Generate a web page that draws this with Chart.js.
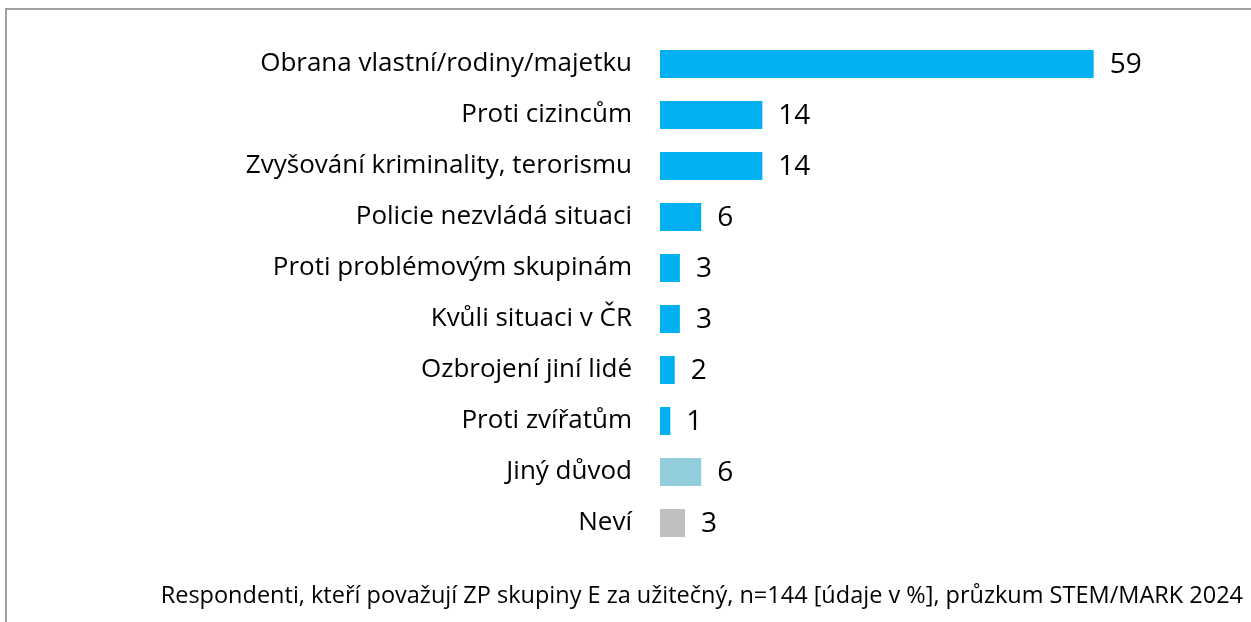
<!DOCTYPE html>
<html>
<head>
<meta charset="utf-8">
<script src="https://cdn.jsdelivr.net/npm/chart.js@4/dist/chart.umd.min.js"></script>
<style>
  html, body { margin: 0; padding: 0; background: #fff; }
  #wrap { width: 1251px; height: 622px; position: relative; }
</style>
</head>
<body>
<div id="wrap"><canvas id="c" width="1251" height="622"></canvas></div>
<script>
const categories = [
  "Obrana vlastní/rodiny/majetku",
  "Proti cizincům",
  "Zvyšování kriminality, terorismu",
  "Policie nezvládá situaci",
  "Proti problémovým skupinám",
  "Kvůli situaci v ČR",
  "Ozbrojení jiní lidé",
  "Proti zvířatům",
  "Jiný důvod",
  "Neví"
];
// bar lengths
const values = [58.9, 13.9, 13.9, 5.6, 2.7, 2.7, 2.0, 1.4, 5.6, 3.4];
// printed value labels
const valueLabels = ["59", "14", "14", "6", "3", "3", "2", "1", "6", "3"];
const barColors = ["#00B0F0", "#00B0F0", "#00B0F0", "#00B0F0", "#00B0F0", "#00B0F0", "#00B0F0", "#00B0F0", "#92CDDC", "#BFBFBF"];
const footnote = "Respondenti, kteří považují ZP skupiny E za užitečný, n=144 [údaje v %], průzkum STEM/MARK 2024";

const FONT = "'Open Sans', Lato, sans-serif";

const framePlugin = {
  id: 'frame',
  beforeDraw(chart) {
    const ctx = chart.ctx;
    ctx.save();
    ctx.fillStyle = '#fff';
    ctx.fillRect(0, 0, chart.width, chart.height);
    ctx.strokeStyle = '#A0A0A0';
    ctx.lineWidth = 2;
    ctx.beginPath();
    ctx.moveTo(6, chart.height);
    ctx.lineTo(6, 9);
    ctx.lineTo(chart.width, 9);
    ctx.stroke();
    ctx.restore();
  },
  afterDraw(chart) {
    const ctx = chart.ctx;
    ctx.save();
    ctx.font = "23.5px " + FONT;
    ctx.fillStyle = '#000';
    ctx.textAlign = 'right';
    ctx.textBaseline = 'alphabetic';
    ctx.fillText(footnote, 1243, 603);
    ctx.restore();
  }
};

const valueLabelPlugin = {
  id: 'valueLabels',
  afterDatasetsDraw(chart) {
    const ctx = chart.ctx;
    const meta = chart.getDatasetMeta(0);
    ctx.save();
    ctx.font = "28px " + FONT;
    ctx.fillStyle = '#000';
    ctx.textAlign = 'left';
    ctx.textBaseline = 'middle';
    meta.data.forEach((bar, i) => {
      ctx.fillText(valueLabels[i], bar.x + 16, bar.y + 1);
    });
    ctx.restore();
  }
};

new Chart(document.getElementById('c'), {
  type: 'bar',
  data: {
    labels: categories,
    datasets: [{
      data: values,
      backgroundColor: barColors,
      borderWidth: 0,
      barPercentage: 0.55,
      categoryPercentage: 1.0
    }]
  },
  options: {
    indexAxis: 'y',
    responsive: false,
    animation: false,
    layout: { padding: { left: 0, right: 2, top: 38.5, bottom: 73.5 } },
    plugins: {
      legend: { display: false },
      tooltip: { enabled: false },
      title: { display: false }
    },
    scales: {
      x: {
        display: false,
        min: 0,
        max: 80
      },
      y: {
        grid: { display: false, drawTicks: false },
        border: { display: false },
        ticks: {
          padding: 28,
          color: '#000',
          font: { family: FONT, size: 26 }
        },
        afterFit(scale) {
          scale.width = 660;
          scale.paddingTop = 0;
          scale.paddingBottom = 0;
        }
      }
    }
  },
  plugins: [framePlugin, valueLabelPlugin]
});
</script>
</body>
</html>
